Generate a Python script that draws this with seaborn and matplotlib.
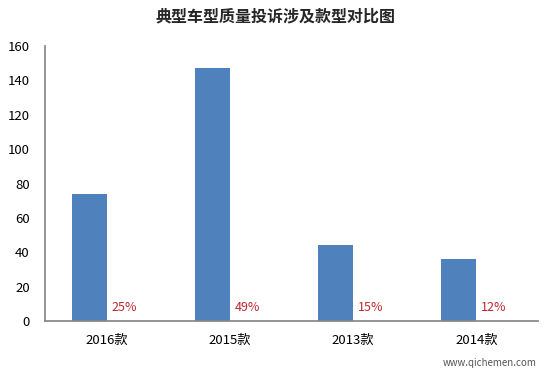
import pandas as pd
import seaborn as sns
import matplotlib.pyplot as plt

# data
models = ['2016款', '2015款', '2013款', '2014款']
complaints = [74, 147, 44, 36]
shares = ['25%', '49%', '15%', '12%']

sns.set_theme(style='white')
plt.rcParams['font.family'] = ['Noto Sans CJK SC', 'DejaVu Sans']

# two series like the excel chart: counts + an empty share series that only carries labels
df = pd.DataFrame({
    'model': models * 2,
    'value': complaints + [0] * len(models),
    'series': ['投诉量'] * len(models) + ['占比'] * len(models),
})

fig = plt.figure(figsize=(5.5, 3.77), dpi=100)
ax = fig.add_axes([0.082, 0.1485, 0.896, 0.7295])

sns.barplot(data=df, x='model', y='value', hue='series', ax=ax,
            palette=['#4f81bd', '#4f81bd'], width=0.57, saturation=1,
            legend=False, linewidth=0)

ax.bar_label(ax.containers[1], labels=shares, color='#c0262d', fontsize=9, padding=5)

ax.set_ylim(0, 160)
ax.set_yticks(range(0, 161, 20))
ax.set_xlabel('')
ax.set_ylabel('')
ax.tick_params(axis='both', labelsize=9.5, colors='black', length=0)
ax.tick_params(axis='x', pad=9)
ax.tick_params(axis='y', pad=11)
ax.set_xlim(-0.5, 3.5)

sns.despine(ax=ax, top=True, right=True)
ax.spines['left'].set_color('#868686')
ax.spines['bottom'].set_color('#868686')

fig.text(0.5, 0.955, '典型车型质量投诉涉及款型对比图', ha='center', va='center',
         fontsize=11.5, fontweight='bold')

# site watermark
fig.text(0.975, 0.025, 'www.qichemen.com', ha='right', va='bottom', fontsize=7, color='#555555')

fig.savefig('out.png', dpi=100)
